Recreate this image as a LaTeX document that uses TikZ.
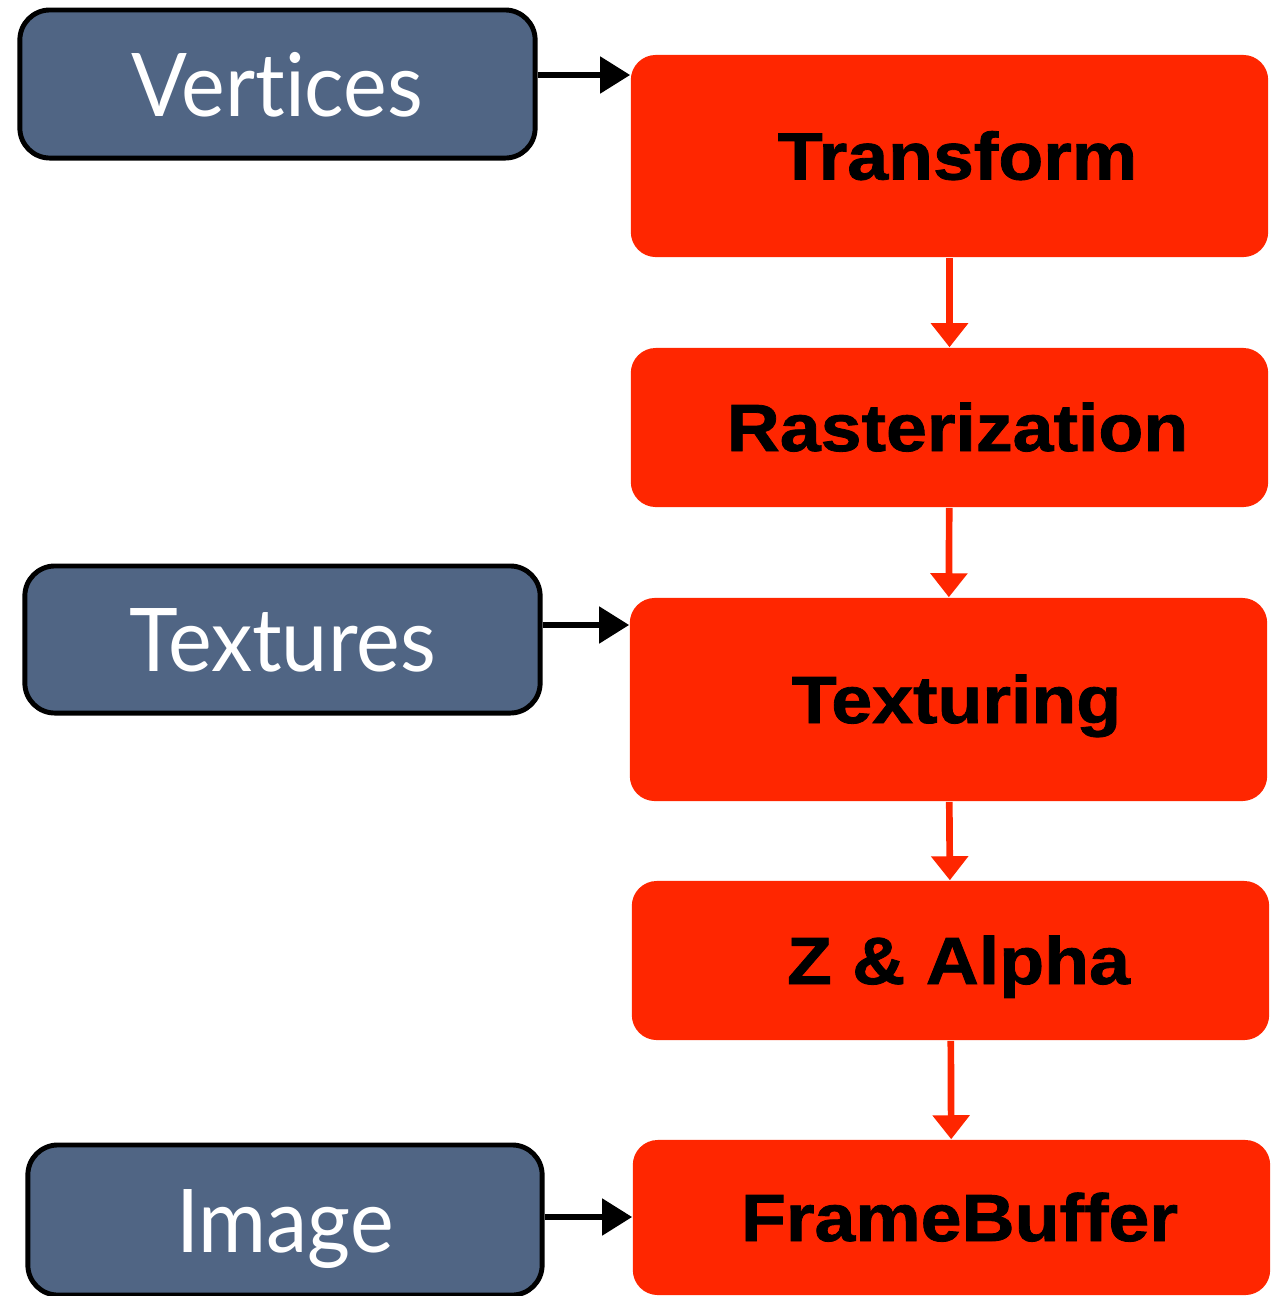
\documentclass[tikz,border=0pt]{standalone}
\usepackage{fontspec}
\setmainfont{Liberation Sans}
\newfontfamily\inputfont[FakeStretch=0.94,Ligatures=NoCommon]{Lato}
\newfontfamily\stagefont[FakeStretch=1.1,FakeBold=1.2]{Liberation Sans Bold}
\usepackage{xcolor}
\usetikzlibrary{arrows.meta}
\definecolor{slate}{HTML}{506584}
\definecolor{stagered}{HTML}{FF2600}
\tikzset{
    Input/.style = {draw=black,line width=1.4pt,fill=slate,rounded corners=0.3cm,
        text=white,font=\inputfont\fontsize{25}{25}\selectfont,inner sep=0pt,
        text height=0.64cm,text depth=0pt},
    Stage/.style = {fill=stagered,rounded corners=0.25cm,text=black,
        font=\stagefont\fontsize{19}{19}\selectfont,inner sep=0pt,
        text height=0.47cm,text depth=0pt,minimum width=6.37cm,
        execute at begin node=\hspace*{0.16cm}},
    feed/.style = {line width=1.5pt,-{Triangle[width=0.36cm,length=0.3cm]}},
    flow/.style = {draw=stagered,line width=1.9pt,
        -{Triangle[width=0.36cm,length=0.24cm]}}
}
\begin{document}
\begin{tikzpicture}[x=0.01cm,y=-0.01cm]
        \useasboundingbox (0,0) rectangle (1277,1296);
        % inputs on the left
        \node[Input,minimum width=5.15cm,minimum height=1.48cm] (Vertices) at (277.5,84) {Vertices};
        \node[Input,minimum width=5.15cm,minimum height=1.47cm] (Textures) at (282.5,639.5) {Textures};
        \node[Input,minimum width=5.14cm,minimum height=1.50cm] (Image) at (285,1220) {Image};
        % pipeline stages
        \node[Stage,minimum height=2.02cm] (Transform) at (949.5,156) {Transform};
        \node[Stage,minimum height=1.59cm] (Rasterization) at (949.5,427.5) {Rasterization};
        \node[Stage,minimum height=2.03cm] (Texturing) at (948.5,699.5) {Texturing};
        \node[Stage,minimum height=1.59cm] (ZAlpha) at (950.5,960.5) {Z \& Alpha};
        \node[Stage,minimum height=1.55cm] (FrameBuffer) at (951.5,1217.5) {FrameBuffer};
        \draw[feed] ([yshift=0.09cm]Vertices.east) coordinate (v) -- (v -| Transform.west);
        \draw[feed] ([yshift=0.145cm]Textures.east) coordinate (t) -- (t -| Texturing.west);
        \draw[feed] ([yshift=0.03cm]Image.east) coordinate (i) -- (i -| FrameBuffer.west);
        \draw[flow] (Transform) -- (Rasterization);
        \draw[flow] (Rasterization) -- (Texturing);
        \draw[flow] (Texturing) -- (ZAlpha);
        \draw[flow] (ZAlpha) -- (FrameBuffer);
\end{tikzpicture}
\end{document}
